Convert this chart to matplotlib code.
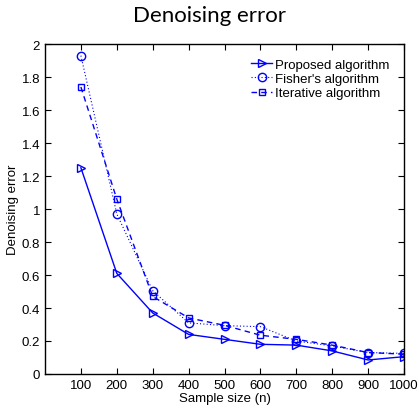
import matplotlib
matplotlib.use("Agg")
import matplotlib.pyplot as plt

sizes = [100, 200, 300, 400, 500, 600, 700, 800, 900, 1000]
proposed = [1.25, 0.61, 0.37, 0.24, 0.21, 0.18, 0.175, 0.14, 0.085, 0.105]
fisher = [1.93, 0.97, 0.505, 0.31, 0.293, 0.287, 0.20, 0.17, 0.13, 0.125]
iterative = [1.74, 1.06, 0.47, 0.34, 0.295, 0.235, 0.21, 0.175, 0.13, 0.12]

plt.rcParams['font.family'] = ['Liberation Sans', 'DejaVu Sans']

fig = plt.figure(figsize=(4.19, 4.10), dpi=100)
ax = fig.add_axes([0.1074, 0.0854, 0.8568, 0.8046])

ax.plot(sizes, proposed, '-', color='blue', marker='>', mfc='none', ms=6, lw=1,
        label='Proposed algorithm')
ax.plot(sizes, fisher, color='blue', ls=(0, (1, 2)), marker='o', mfc='none', ms=6, lw=0.8,
        label="Fisher's algorithm")
ax.plot(sizes, iterative, color='blue', ls=(0, (4, 3)), marker='s', mfc='none', ms=5, lw=1,
        label='Iterative algorithm')

ax.set_xlim(0, 1000)
ax.set_ylim(0, 2)
ax.set_xticks(sizes)
ax.set_yticks([0, 0.2, 0.4, 0.6, 0.8, 1, 1.2, 1.4, 1.6, 1.8, 2])
ax.set_yticklabels(['0', '0.2', '0.4', '0.6', '0.8', '1', '1.2', '1.4', '1.6', '1.8', '2'])
ax.tick_params(direction='in', top=True, right=True, labelsize=9.5, length=4)
for s in ax.spines.values():
    s.set_linewidth(1)

ax.set_xlabel('Sample size (n)', fontsize=9.5, labelpad=1)
ax.set_ylabel('Denoising error', fontsize=9.5, labelpad=2)
fig.suptitle('Denoising error', fontsize=16, y=0.985, family=['Lato', 'DejaVu Sans'])

ax.legend(loc='upper right', frameon=False, fontsize=9.5, handlelength=1.6,
          handletextpad=0.2, labelspacing=0.15, borderaxespad=0.7)

fig.savefig('out.png', dpi=100)
